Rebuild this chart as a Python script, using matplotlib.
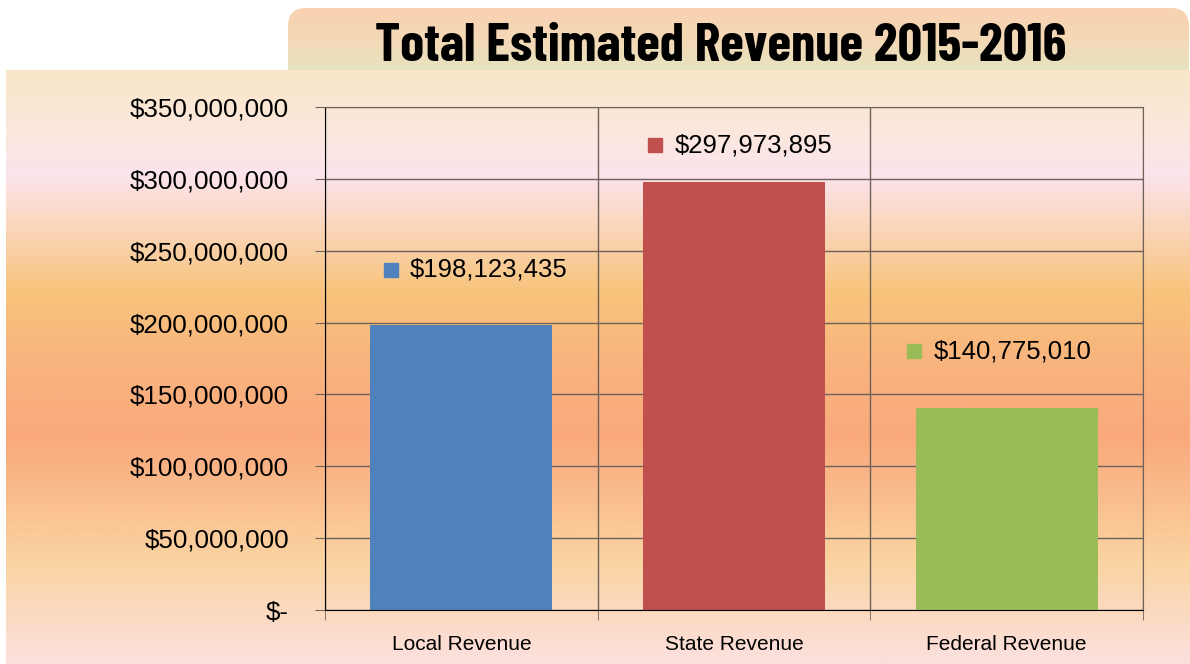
import numpy as np
import matplotlib
matplotlib.use('Agg')
import matplotlib.pyplot as plt
from matplotlib.colors import LinearSegmentedColormap
from matplotlib.patches import FancyBboxPatch
from matplotlib.ticker import FuncFormatter, FixedLocator

# data
categories = ['Local Revenue', 'State Revenue', 'Federal Revenue']
revenue = [198123435, 297973895, 140775010]
bar_colors = ['#4F81BD', '#C0504D', '#9BBB59']
title = 'Total Estimated Revenue 2015-2016'

# label anchor positions (x of marker in category units, y in dollars)
label_x = [-0.258, 0.712, 1.661]
label_y = [236.6e6, 323.5e6, 180.2e6]

plt.rcParams['font.family'] = ['Liberation Sans', 'DejaVu Sans']

W, H = 1190, 664
fig = plt.figure(figsize=(W / 100, H / 100), dpi=100)
fig.patch.set_facecolor('white')

# background panels, drawn in pixel coordinates
bg = fig.add_axes([0, 0, 1, 1])
bg.set_xlim(0, W)
bg.set_ylim(H, 0)
bg.axis('off')

tab_cmap = LinearSegmentedColormap.from_list('tab', ['#F9D2B2', '#F4D8B6', '#E6E4C0'])
grad = np.linspace(0, 1, 256).reshape(-1, 1)
tab_img = bg.imshow(grad, cmap=tab_cmap, aspect='auto', extent=[288, W, 72, 8], zorder=0)
tab_box = FancyBboxPatch((288, 8), W - 288 - 1, 80, boxstyle='round,pad=0,rounding_size=18',
                         facecolor='none', edgecolor='none', transform=bg.transData)
bg.add_patch(tab_box)
tab_img.set_clip_path(tab_box)

stops = [(0.0, '#FAE6C8'), (0.085, '#FBE8DA'), (0.175, '#FCE4EC'), (0.25, '#FAD8C2'),
         (0.373, '#F8C47C'), (0.49, '#F9B47E'), (0.617, '#F9A97C'), (0.725, '#FABE8E'),
         (0.83, '#FAD4A2'), (1.0, '#FCE0DE')]
panel_cmap = LinearSegmentedColormap.from_list('panel', stops)
bg.imshow(grad, cmap=panel_cmap, aspect='auto', extent=[6, W, H, 70], zorder=1)

bg.text(721, 47, title, ha='center', va='center', fontsize=39, fontweight='bold',
        family=['Barlow Condensed', 'DejaVu Sans'], zorder=3)

# chart
ax = fig.add_axes([325 / W, 54 / H, 818 / W, 503 / H])
ax.set_facecolor('none')
x = np.arange(len(categories))
ax.bar(x, revenue, width=0.667, color=bar_colors, zorder=2)

ax.set_xlim(-0.5, 2.5)
ax.set_ylim(0, 350e6)
ax.set_yticks(np.arange(0, 350e6 + 1, 50e6))
ax.yaxis.set_major_formatter(FuncFormatter(lambda v, p: '$-' if v == 0 else '${:,.0f}'.format(v)))
ax.set_xticks(x)
ax.set_xticklabels(categories)
ax.xaxis.set_minor_locator(FixedLocator([-0.5, 0.5, 1.5, 2.5]))

grid_color = '#6E625A'
ax.grid(axis='y', color=grid_color, linewidth=1, zorder=1)
ax.grid(axis='x', which='minor', color=grid_color, linewidth=1, zorder=1)
ax.tick_params(axis='y', length=7, color=grid_color, pad=19, labelsize=18.7)
ax.tick_params(axis='x', which='major', length=0, pad=18, labelsize=15)
ax.tick_params(axis='x', which='minor', length=7, color=grid_color)
ax.spines['left'].set_color('black')
ax.spines['bottom'].set_color('black')
ax.spines['top'].set_color(grid_color)
ax.spines['right'].set_color(grid_color)

# data labels with colour key
for i in range(len(categories)):
    ax.plot(label_x[i], label_y[i], marker='s', markersize=10, color=bar_colors[i],
            linestyle='none', zorder=3)
    ax.text(label_x[i] + 0.07, label_y[i], '${:,.0f}'.format(revenue[i]), ha='left',
            va='center', fontsize=18.5, zorder=3)

fig.savefig('out.png', dpi=100, facecolor='white')
